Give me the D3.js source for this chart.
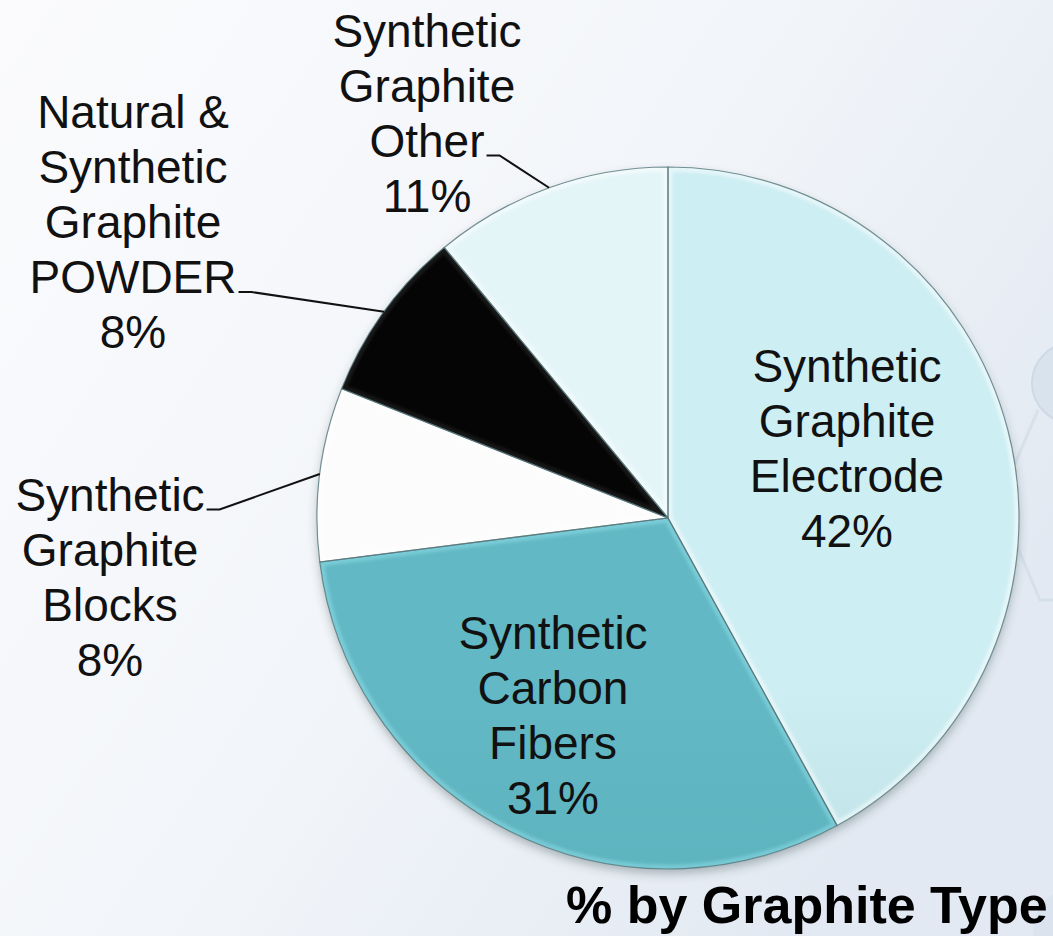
<!DOCTYPE html>
<html><head><meta charset="utf-8">
<script src="https://cdn.jsdelivr.net/npm/d3@7"></script>
<style>html,body{margin:0;padding:0;overflow:hidden;background:#f6f8fb}</style>
</head><body><svg id="chart" width="1053" height="936"></svg>
<script>
// ---- data ----
const categories = ["Synthetic Graphite Electrode", "Synthetic Carbon Fibers", "Synthetic Graphite Blocks", "Natural & Synthetic Graphite POWDER", "Synthetic Graphite Other"];
const labelLines = [["Synthetic","Graphite","Electrode"], ["Synthetic","Carbon","Fibers"], ["Synthetic","Graphite","Blocks"], ["Natural &","Synthetic","Graphite","POWDER"], ["Synthetic","Graphite","Other"]];
const values = [42, 31, 8, 8, 11];
const valueLabels = ["42%", "31%", "8%", "8%", "11%"];
const chartTitle = "% by Graphite Type";

// ---- layout / style ----
const W = 1053, H = 936, cx = 668, cy = 518, R = 351;
const sliceColors = [
  ["#cdeef3", "#9ec4c9"],
  ["#62b8c4", "#52a7b2"],
  ["#fcfcfc", "#dedfdf"],
  ["#050505", "#000000"],
  ["#e4f5f8", "#cbe0e4"]
];
const labelLayout = [
  {dx: 179, dy: -70, outside: false},
  {dx: -115, dy: 197, outside: false},
  {dx: -558, dy: 59, outside: true, leaderLine: 0},
  {dx: -535, dy: -296, outside: true, leaderLine: 3},
  {dx: -241, dy: -405, outside: true, leaderLine: 2}
];
const lineH = 55, capHalf = 16, fontSize = 46;
const font = "'Liberation Sans', Arial, Helvetica, sans-serif";

const svg = d3.select("#chart");
const defs = svg.append("defs");

// background
const bg = defs.append("linearGradient").attr("id", "bg").attr("x1", 0).attr("y1", 0).attr("x2", 1).attr("y2", 0.6);
bg.append("stop").attr("offset", "0%").attr("stop-color", "#fbfbfd");
bg.append("stop").attr("offset", "55%").attr("stop-color", "#f2f5f9");
bg.append("stop").attr("offset", "100%").attr("stop-color", "#e2e9f2");
svg.append("rect").attr("width", W).attr("height", H).attr("fill", "url(#bg)");

// faint decorative molecule shapes
const deco = svg.append("g").attr("fill", "none").attr("stroke", "#d3dde8").attr("stroke-width", 3).attr("opacity", 0.8);
deco.append("path").attr("d", "M1038,410 L1008,480 M1006,520 L1040,600 L1053,600");
svg.append("circle").attr("cx", 1072).attr("cy", 383).attr("r", 40).attr("fill", "#d9e3ee").attr("stroke", "#cdd9e5").attr("stroke-width", 2);
svg.append("circle").attr("cx", 1075).attr("cy", 930).attr("r", 42).attr("fill", "#dbe4ee");

// filters
const sh = defs.append("filter").attr("id", "shadow").attr("x", "-10%").attr("y", "-10%").attr("width", "120%").attr("height", "125%");
sh.append("feDropShadow").attr("dx", 0).attr("dy", 5).attr("stdDeviation", 5).attr("flood-color", "#33484c").attr("flood-opacity", 0.35);
const bl = defs.append("filter").attr("id", "soft");
bl.append("feGaussianBlur").attr("stdDeviation", 1.6);

sliceColors.forEach((c, i) => {
  const g = defs.append("linearGradient").attr("id", "sg" + i)
    .attr("gradientUnits", "userSpaceOnUse")
    .attr("x1", cx).attr("y1", cy - R).attr("x2", cx).attr("y2", cy + R);
  g.append("stop").attr("offset", "0%").attr("stop-color", c[0]);
  g.append("stop").attr("offset", "100%").attr("stop-color", c[1]);
});

const pie = d3.pie().sort(null).value(d => d).startAngle(0).endAngle(2 * Math.PI);
const arcs = pie(values);
const arc = d3.arc().innerRadius(0).outerRadius(R);
const rimArc = d3.arc().innerRadius(R).outerRadius(R);

const pg = svg.append("g").attr("transform", `translate(${cx},${cy})`);
pg.append("circle").attr("r", R).attr("fill", "#b9d6da").attr("filter", "url(#shadow)");

arcs.forEach((a, i) => {
  defs.append("clipPath").attr("id", "clip" + i).append("path").attr("d", arc(a));
});

pg.selectAll("path.slice").data(arcs).join("path")
  .attr("class", "slice")
  .attr("d", arc)
  .attr("fill", (d, i) => `url(#sg${i})`);

// inner bevel highlight
pg.selectAll("path.bevel").data(arcs).join("path")
  .attr("class", "bevel")
  .attr("d", arc)
  .attr("fill", "none")
  .attr("stroke", (d, i) => i === 3 ? "#2a2a2a" : (i === 1 ? "#8fe0ea" : "#ffffff"))
  .attr("stroke-opacity", (d, i) => i === 3 ? 0.5 : 0.5)
  .attr("stroke-width", 9)
  .attr("clip-path", (d, i) => `url(#clip${i})`)
  .attr("filter", "url(#soft)");

pg.selectAll("path.edge").data(arcs).join("path")
  .attr("class", "edge")
  .attr("d", arc)
  .attr("fill", "none")
  .attr("stroke", "#56757a")
  .attr("stroke-opacity", 0.8)
  .attr("stroke-width", 1.2);

// labels
const lg = svg.append("g").attr("font-family", font).attr("font-size", fontSize).attr("fill", "#111").attr("text-anchor", "middle");
arcs.forEach((a, i) => {
  const L = labelLayout[i];
  const lines = labelLines[i].concat([valueLabels[i]]);
  const n = lines.length;
  const ax = cx + L.dx, ay = cy + L.dy;
  const t = lg.append("g");
  const nodes = lines.map((s, k) => t.append("text")
    .attr("x", ax)
    .attr("y", ay + (k - (n - 1) / 2) * lineH + capHalf)
    .text(s));
  if (L.outside) {
    const tn = nodes[L.leaderLine];
    const w = tn.node().getComputedTextLength();
    const bx = ax + w / 2 + 2;
    const by = +tn.attr("y") - 1;
    const p = rimArc.centroid(a);
    svg.append("path")
      .attr("d", `M${bx},${by} H${bx + 13} L${cx + p[0]},${cy + p[1]}`)
      .attr("fill", "none").attr("stroke", "#111").attr("stroke-width", 2);
  }
});

// title
svg.append("text").attr("x", 566).attr("y", 923)
  .attr("font-family", font).attr("font-weight", "bold").attr("font-size", 52)
  .attr("fill", "#000").text(chartTitle);
</script></body></html>
